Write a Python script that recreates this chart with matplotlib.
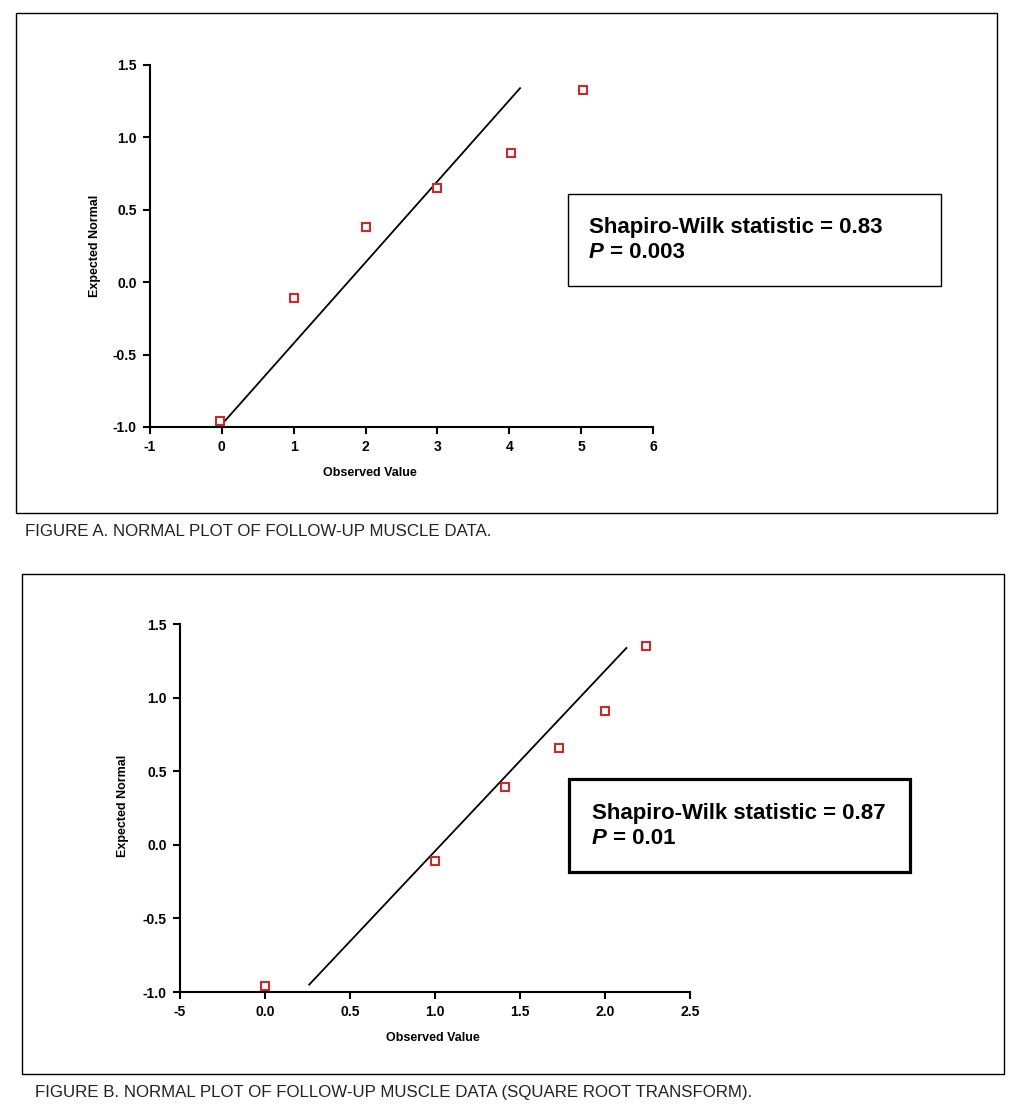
import matplotlib.pyplot as plt
from matplotlib.patches import Rectangle

plt.rcParams["font.family"] = ["Liberation Sans", "DejaVu Sans"]

# panel A: raw follow-up muscle data
obs_a = [-0.03, 1.0, 2.0, 3.0, 4.02, 5.03]
exp_a = [-0.96, -0.11, 0.38, 0.65, 0.89, 1.33]
line_a_x = [0.03, 4.15]
line_a_y = [-0.965, 1.34]
xticks_a = [-1, 0, 1, 2, 3, 4, 5, 6]
xlabels_a = ["-1", "0", "1", "2", "3", "4", "5", "6"]

# panel B: square root transform
obs_b = [0.0, 1.0, 1.41, 1.73, 2.0, 2.24]
exp_b = [-0.96, -0.11, 0.39, 0.66, 0.91, 1.35]
line_b_x = [0.26, 2.126]
line_b_y = [-0.95, 1.337]
xticks_b = [-0.5, 0.0, 0.5, 1.0, 1.5, 2.0, 2.5]
xlabels_b = ["-5", "0.0", "0.5", "1.0", "1.5", "2.0", "2.5"]

yticks = [-1.0, -0.5, 0.0, 0.5, 1.0, 1.5]
ylabels = ["-1.0", "-0.5", "0.0", "0.5", "1.0", "1.5"]

stat_a = "Shapiro-Wilk statistic = 0.83"
p_a = " = 0.003"
stat_b = "Shapiro-Wilk statistic = 0.87"
p_b = " = 0.01"

W, H = 1024, 1118
fig = plt.figure(figsize=(W / 100, H / 100), dpi=100)


def fx(px):
    return px / W


def fy(py):
    return 1 - py / H


def frame(x0, y0, x1, y1, lw):
    fig.add_artist(Rectangle((fx(x0), fy(y1)), fx(x1) - fx(x0), fy(y0) - fy(y1),
                             transform=fig.transFigure, fill=False,
                             edgecolor="black", linewidth=lw))


def panel(rect, xs, ys, lx, ly, xticks, xlabels, xlim):
    x0, y0, x1, y1 = rect
    ax = fig.add_axes([fx(x0), fy(y1), fx(x1) - fx(x0), fy(y0) - fy(y1)])
    ax.plot(lx, ly, color="black", linewidth=1.3)
    ax.plot(xs, ys, linestyle="none", marker="s", markersize=5.2,
            markerfacecolor="white", markeredgecolor="#cc2a2a",
            markeredgewidth=1.5, clip_on=False)
    ax.set_xlim(*xlim)
    ax.set_ylim(-1.0, 1.5)
    ax.set_xticks(xticks)
    ax.set_xticklabels(xlabels)
    ax.set_yticks(yticks)
    ax.set_yticklabels(ylabels)
    for s in ["top", "right"]:
        ax.spines[s].set_visible(False)
    for s in ["left", "bottom"]:
        ax.spines[s].set_linewidth(1.5)
    ax.tick_params(direction="out", length=5, width=1.5, pad=4.5, labelsize=10)
    for lab in ax.get_xticklabels() + ax.get_yticklabels():
        lab.set_fontweight("bold")
    ax.set_facecolor("none")
    return ax


def stats_box(box, lw, line1, pval, tx, ty1, ty2):
    frame(*box, lw)
    fig.text(fx(tx), fy(ty1), line1, fontsize=16, fontweight="bold", va="center")
    t = fig.text(fx(tx), fy(ty2), "P", fontsize=16, fontweight="bold",
                 fontstyle="italic", va="center")
    fig.add_artist(plt.Annotation(pval, xy=(1, 0), xycoords=t, va="bottom",
                                  ha="left", fontsize=16, fontweight="bold"))


# panel A
frame(16, 13, 997, 513, 1.0)
ax_a = panel((150, 65, 653, 427), obs_a, exp_a, line_a_x, line_a_y,
             xticks_a, xlabels_a, (-1, 6))
fig.text(fx(370), fy(473), "Observed Value", fontsize=9, fontweight="bold",
         ha="center", va="center")
fig.text(fx(95), fy(246), "Expected Normal", fontsize=9, fontweight="bold",
         ha="center", va="center", rotation=90)
stats_box((568, 194, 941, 286), 1.0, stat_a, p_a, 589, 228, 253)
fig.text(fx(25), fy(532), "FIGURE A. NORMAL PLOT OF FOLLOW-UP MUSCLE DATA.",
         fontsize=12.2, color="#222222", va="center")

# panel B
frame(22, 574, 1004, 1074, 1.0)
ax_b = panel((180, 624, 690, 992), obs_b, exp_b, line_b_x, line_b_y,
             xticks_b, xlabels_b, (-0.5, 2.5))
fig.text(fx(433), fy(1038), "Observed Value", fontsize=9, fontweight="bold",
         ha="center", va="center")
fig.text(fx(123), fy(806), "Expected Normal", fontsize=9, fontweight="bold",
         ha="center", va="center", rotation=90)
stats_box((569, 779, 910, 872), 2.3, stat_b, p_b, 592, 813, 838)
fig.text(fx(35), fy(1092),
         "FIGURE B. NORMAL PLOT OF FOLLOW-UP MUSCLE DATA (SQUARE ROOT TRANSFORM).",
         fontsize=12.15, color="#222222", va="center")

fig.savefig("out.png", dpi=100, facecolor="white")
